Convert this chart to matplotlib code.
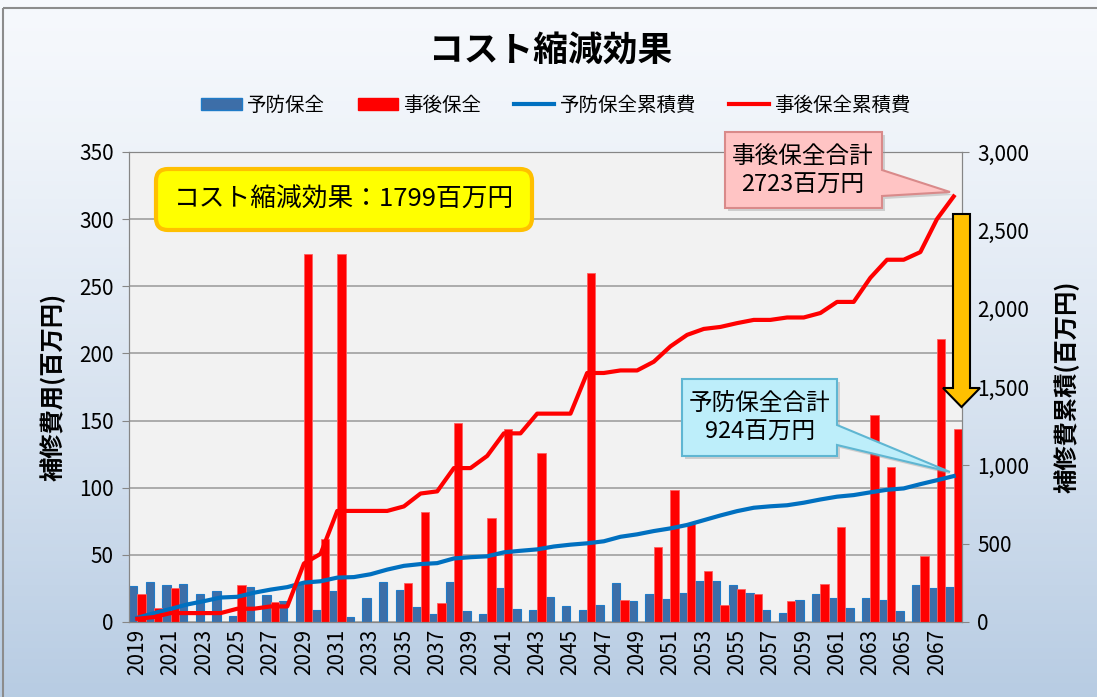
import numpy as np
import matplotlib.pyplot as plt
from matplotlib.patches import FancyBboxPatch, Polygon, Rectangle
from matplotlib.lines import Line2D
from matplotlib.ticker import StrMethodFormatter

plt.rcParams['font.family'] = ['Noto Sans CJK JP', 'DejaVu Sans']

years = list(range(2019, 2069))
# 予防保全 (百万円)
yobou = [26.8, 29.6, 27.3, 28.3, 21.1, 23.1, 4.5, 26.1, 19.9, 15.9,
         28.6, 8.9, 23.1, 3.5, 18.1, 29.8, 23.8, 11.4, 6.0, 29.8,
         8.0, 5.7, 25.3, 10.0, 8.9, 18.4, 11.7, 8.7, 12.9, 28.8,
         15.6, 20.9, 17.1, 21.9, 30.3, 30.3, 27.6, 21.6, 9.2, 6.7,
         16.2, 20.6, 17.9, 10.2, 17.6, 16.4, 8.5, 27.3, 25.3, 26.1]
# 事後保全 (百万円)
jigo = [20.6, 10.7, 25.6, 0, 0, 0, 27.8, 0, 14.7, 0,
        274.0, 61.6, 274.0, 0, 0, 0, 28.8, 82.2, 13.9, 148.5,
        0, 77.7, 144.0, 0, 125.8, 0, 0, 259.6, 0, 16.2,
        0, 55.6, 98.1, 73.3, 38.0, 12.7, 24.3, 20.6, 0, 15.4,
        0, 28.6, 70.8, 0, 154.0, 115.2, 0, 48.9, 211.0, 144.0]

yobou_cum = np.cumsum(yobou)
jigo_cum = np.cumsum(jigo)

fig = plt.figure(figsize=(10.97, 6.97), dpi=100)

# background gradient
bg = fig.add_axes([0, 0, 1, 1], zorder=-1)
top = np.array([0.965, 0.975, 0.99])
bot = np.array([0.72, 0.80, 0.89])
t = np.linspace(0, 1, 200)[:, None, None] ** 1.3
grad = np.repeat(top + (bot - top) * t, 2, axis=1)
bg.imshow(grad, aspect='auto', extent=[0, 1, 0, 1])
bg.axis('off')

ax = fig.add_axes([129 / 1097, 75 / 697, 833 / 1097, 470 / 697])
ax.set_facecolor('#F2F2F2')
x = np.arange(len(years))
ax.bar(x - 0.25, yobou, width=0.5, color='#3D6EA8', edgecolor='#1F7BC8', linewidth=0.8, zorder=2)
ax.bar(x + 0.25, jigo, width=0.5, color='#FF0000', edgecolor='#FF6060', linewidth=0.6, zorder=2)
ax.set_xlim(-0.5, len(years) - 0.5)
ax.set_ylim(0, 350)
ax.set_yticks(range(0, 351, 50))
ax.set_xticks(x[::2])
ax.set_xticklabels([str(y) for y in years[::2]], rotation=90, fontsize=15)
ax.tick_params(axis='y', labelsize=15, length=5, color='#868686', pad=6)
ax.tick_params(axis='x', length=0, pad=5)
ax.grid(axis='y', color='#A0A0A0', linewidth=1.2, zorder=0)
ax.set_axisbelow(True)
for s in ax.spines.values():
    s.set_color('#868686')
ax.set_ylabel('補修費用(百万円)', fontsize=17.5, fontweight='bold', labelpad=10)

ax2 = ax.twinx()
ax2.plot(x, yobou_cum, color='#0070C0', linewidth=3, zorder=3)
ax2.plot(x, jigo_cum, color='#FF0000', linewidth=3, zorder=3)
ax2.set_ylim(0, 3000)
ax2.set_yticks(range(0, 3001, 500))
ax2.yaxis.set_major_formatter(StrMethodFormatter('{x:,.0f}'))
ax2.tick_params(axis='y', labelsize=15, length=5, color='#868686', pad=6)
for s in ax2.spines.values():
    s.set_color('#868686')
ax2.set_ylabel('補修費累積(百万円)', fontsize=17.5, fontweight='bold', rotation=90, labelpad=18)

fig.text(0.502, 0.928, 'コスト縮減効果', fontsize=25, fontweight='bold', ha='center', va='center')

handles = [Rectangle((0, 0), 1, 1, fc='#3D6EA8', ec='#1F7BC8'),
           Rectangle((0, 0), 1, 1, fc='#FF0000', ec='#FF0000'),
           Line2D([], [], color='#0070C0', linewidth=3),
           Line2D([], [], color='#FF0000', linewidth=3)]
labels = ['予防保全', '事後保全', '予防保全累積費', '事後保全累積費']
fig.legend(handles, labels, loc='center', bbox_to_anchor=(0.507, 0.849), ncol=4,
           frameon=False, fontsize=14, handlelength=2.06, handleheight=0.62,
           columnspacing=1.7, handletextpad=0.27)

# overlay in pixel coordinates
ov = fig.add_axes([0, 0, 1, 1], zorder=10)
ov.set_xlim(0, 1097)
ov.set_ylim(697, 0)
ov.axis('off')

ov.add_patch(Rectangle((3, 8), 1100, 700, fill=False, ec='#8C8C8C', lw=1.5))

ov.add_patch(FancyBboxPatch((156, 169), 376, 61, boxstyle='round,pad=0,rounding_size=12',
                            fc='#FFFF00', ec='#FFC000', lw=3))
ov.text(344, 200, 'コスト縮減効果：1799百万円', fontsize=18.5, ha='center', va='center')

pink = [(725, 132), (882, 132), (882, 170), (950, 192), (882, 196), (882, 208), (725, 208)]
ov.add_patch(Polygon([(px + 3, py + 3) for px, py in pink], fc='#999999', ec='none', alpha=0.4))
ov.add_patch(Polygon(pink, fc='#FFC4C4', ec='#D98A8A', lw=1.5))
ov.text(803, 171, '事後保全合計\n2723百万円', fontsize=17, ha='center', va='center', linespacing=1.35)

cyan = [(682, 379), (837, 379), (837, 425), (950, 472), (837, 445), (837, 456), (682, 456)]
ov.add_patch(Polygon([(px + 3, py + 3) for px, py in cyan], fc='#999999', ec='none', alpha=0.4))
ov.add_patch(Polygon(cyan, fc='#BDEEFA', ec='#5FB6D2', lw=1.5))
ov.text(760, 418, '予防保全合計\n924百万円', fontsize=17, ha='center', va='center', linespacing=1.35)

arrow = [(953, 214), (970, 214), (970, 388), (980, 388), (961.5, 407), (943, 388), (953, 388)]
ov.add_patch(Polygon(arrow, fc='#FFC000', ec='black', lw=1.5))

fig.savefig('out.png', dpi=100)
